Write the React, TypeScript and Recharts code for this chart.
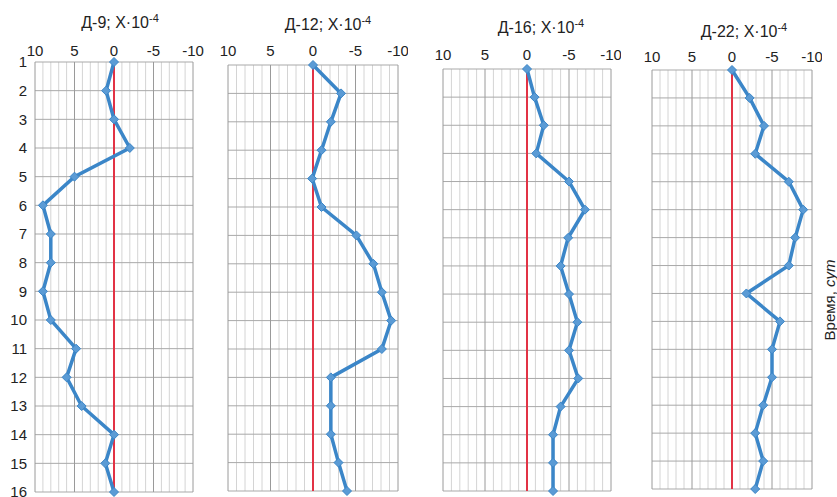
import React from "react";
import { LineChart, Line, XAxis, YAxis, ReferenceLine } from "recharts";

// дни наблюдений
const days = [1, 2, 3, 4, 5, 6, 7, 8, 9, 10, 11, 12, 13, 14, 15, 16];

// деформации по датчикам, X·10^-4
const d9 = [0, 1, 0, -2, 5, 9, 8, 8, 9, 8, 4.8, 6, 4.1, 0, 1.1, 0];
const d12 = [0, -3.3, -2.1, -1, 0.1, -1, -5.1, -7.1, -8.1, -9.2, -8.1, -2.1, -2.1, -2.1, -3, -4];
const d16 = [0, -0.9, -2, -1.1, -5, -6.9, -4.9, -4, -5, -6, -5, -6.1, -4, -3.1, -3.1, -3.1];
const d22 = [0, -2.2, -4, -2.9, -7.1, -8.9, -7.9, -7.1, -1.8, -6, -5, -5, -3.9, -2.9, -3.9, -2.9];

const xTicks = [10, 5, 0, -5, -10];
const gridX = [-10, -9, -8, -7, -6, -5, -4, -3, -2, -1, 0, 1, 2, 3, 4, 5, 6, 7, 8, 9, 10];

const FONT = "'Liberation Sans', Arial, sans-serif";
const BLUE = "#3b86c8";
const RED = "#e23345";

const Diamond = (props: any) => {
  const { cx, cy } = props;
  if (cx == null || cy == null) return null;
  const r = 4.5;
  return (
    <polygon
      points={`${cx},${cy - r} ${cx + r},${cy} ${cx},${cy + r} ${cx - r},${cy}`}
      fill="#5b9bd5"
      stroke="#3b86c8"
      strokeWidth={1}
    />
  );
};

interface PanelProps {
  title: string;
  values: number[];
  left: number;
  width: number;
  plotTop: number;
  plotBottom: number;
  marginLeft: number;
  marginRight: number;
  tickGap: number;
  titleX: number;
  titleY: number;
  showDays?: boolean;
}

function Panel({
  title,
  values,
  left,
  width,
  plotTop,
  plotBottom,
  marginLeft,
  marginRight,
  tickGap,
  titleX,
  titleY,
  showDays,
}: PanelProps) {
  const data = days.map((day, i) => ({ day, v: values[i] }));
  return (
    <>
      <div
        style={{
          position: "absolute",
          left: titleX - 60,
          top: titleY - 10,
          width: 120,
          textAlign: "center",
          fontFamily: FONT,
          fontSize: 16,
          color: "#222",
          lineHeight: "20px",
          whiteSpace: "nowrap",
        }}
      >
        {title}; X·10<sup style={{ fontSize: 11, verticalAlign: "6px", lineHeight: 0 }}>-4</sup>
      </div>
      <div style={{ position: "absolute", left, top: 0 }}>
        <LineChart
          width={width}
          height={497}
          data={data}
          layout="vertical"
          margin={{ top: plotTop - 20, right: marginRight, left: marginLeft, bottom: 497 - plotBottom }}
        >
          <XAxis
            type="number"
            dataKey="v"
            orientation="top"
            domain={[-10, 10]}
            ticks={xTicks}
            reversed
            allowDataOverflow
            height={20}
            axisLine={false}
            tickLine={false}
            tickMargin={tickGap}
            interval={0}
            tick={{ fill: "#222", fontSize: 15, fontFamily: FONT }}
          />
          <YAxis
            type="number"
            dataKey="day"
            domain={[1, 16]}
            ticks={days}
            interval={0}
            hide={!showDays}
            width={showDays ? 35 : 0}
            axisLine={false}
            tickLine={false}
            tick={{ fill: "#222", fontSize: 15, fontFamily: FONT }}
          />
          {gridX
            .filter((x) => x % 5 !== 0)
            .map((x) => (
              <ReferenceLine key={"mx" + x} x={x} stroke="#d4d4d4" strokeWidth={1} />
            ))}
          {days.map((d) => (
            <ReferenceLine key={"hy" + d} y={d} stroke="#a9a9a9" strokeWidth={1} />
          ))}
          {gridX
            .filter((x) => x % 5 === 0 && x !== 0)
            .map((x) => (
              <ReferenceLine key={"Mx" + x} x={x} stroke="#9a9a9a" strokeWidth={1} />
            ))}
          <ReferenceLine x={0} stroke={RED} strokeWidth={2} />
          <Line
            dataKey="v"
            stroke={BLUE}
            strokeWidth={3.5}
            dot={<Diamond />}
            activeDot={false}
            isAnimationActive={false}
          />
        </LineChart>
      </div>
    </>
  );
}

export default function App() {
  return (
    <div
      style={{
        position: "absolute",
        left: 0,
        top: 0,
        width: 837,
        height: 497,
        background: "#fff",
        overflow: "hidden",
      }}
    >
      <Panel
        title="Д-9"
        values={d9}
        left={0}
        width={208}
        marginLeft={0}
        marginRight={15}
        plotTop={62}
        plotBottom={492}
        tickGap={0}
        titleX={120}
        titleY={23}
        showDays
      />
      <Panel
        title="Д-12"
        values={d12}
        left={218}
        width={190}
        marginLeft={10}
        marginRight={10}
        plotTop={65}
        plotBottom={491}
        tickGap={3}
        titleX={328}
        titleY={25}
      />
      <Panel
        title="Д-16"
        values={d16}
        left={433}
        width={188}
        marginLeft={10}
        marginRight={10}
        plotTop={69}
        plotBottom={491}
        tickGap={3}
        titleX={541}
        titleY={28}
      />
      <Panel
        title="Д-22"
        values={d22}
        left={642}
        width={180}
        marginLeft={10}
        marginRight={10}
        plotTop={70}
        plotBottom={489}
        tickGap={2}
        titleX={744}
        titleY={32}
      />
      <div
        style={{
          position: "absolute",
          left: 830 - 60,
          top: 300 - 10,
          width: 120,
          height: 20,
          lineHeight: "20px",
          textAlign: "center",
          transform: "rotate(-90deg)",
          fontFamily: FONT,
          fontSize: 15,
          color: "#222",
          whiteSpace: "nowrap",
        }}
      >
        Время, <i>сут</i>
      </div>
    </div>
  );
}
